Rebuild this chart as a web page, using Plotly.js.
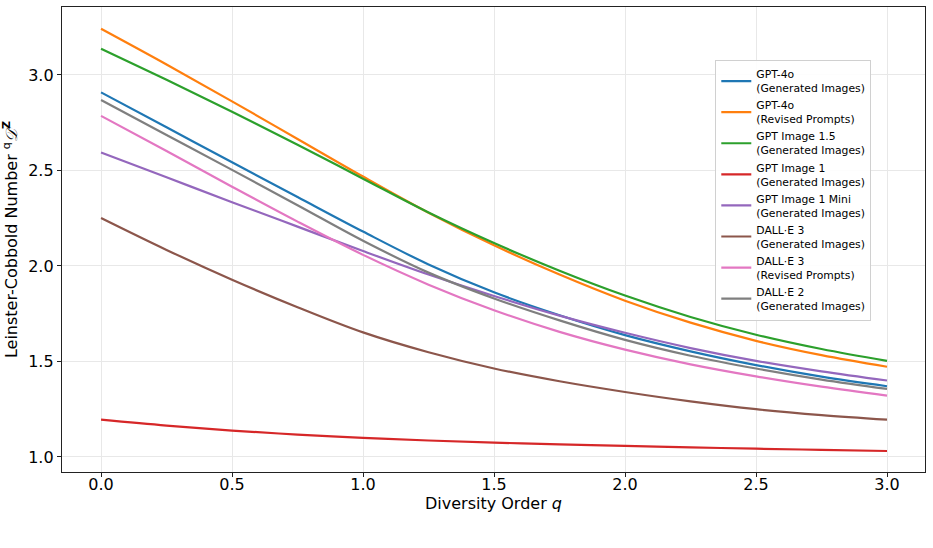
<!DOCTYPE html>
<html>
<head>
<meta charset="utf-8">
<script src="https://cdn.plot.ly/plotly-3.0.1.min.js"></script>
<style>html,body{margin:0;padding:0;background:#fff;}#chart{width:933px;height:548px;}</style>
</head>
<body>
<div id="chart"></div>
<script>
const q = [0, 0.25, 0.5, 0.75, 1.0, 1.25, 1.5, 1.75, 2.0, 2.25, 2.5, 2.75, 3.0];

const gpt4oGen      = [2.909, 2.726, 2.543, 2.361, 2.180, 2.008, 1.862, 1.742, 1.638, 1.553, 1.481, 1.420, 1.370];
const gpt4oRevised  = [3.242, 3.055, 2.862, 2.665, 2.468, 2.279, 2.108, 1.955, 1.818, 1.703, 1.608, 1.533, 1.472];
const gptImg15      = [3.137, 2.975, 2.808, 2.635, 2.457, 2.280, 2.120, 1.975, 1.845, 1.733, 1.640, 1.565, 1.503];
const gptImg1       = [1.195, 1.164, 1.138, 1.117, 1.100, 1.086, 1.075, 1.066, 1.058, 1.050, 1.043, 1.037, 1.031];
const gptImg1Mini   = [2.594, 2.464, 2.334, 2.206, 2.078, 1.955, 1.843, 1.740, 1.650, 1.570, 1.503, 1.448, 1.400];
const dalle3Gen     = [2.251, 2.084, 1.928, 1.784, 1.652, 1.548, 1.463, 1.396, 1.340, 1.291, 1.250, 1.219, 1.195];
const dalle3Revised = [2.786, 2.602, 2.415, 2.232, 2.058, 1.902, 1.768, 1.655, 1.562, 1.485, 1.422, 1.368, 1.321];
const dalle2Gen     = [2.869, 2.686, 2.503, 2.318, 2.132, 1.965, 1.830, 1.715, 1.613, 1.530, 1.463, 1.405, 1.356];

const names = [
  "GPT-4o<br>(Generated Images)",
  "GPT-4o<br>(Revised Prompts)",
  "GPT Image 1.5<br>(Generated Images)",
  "GPT Image 1<br>(Generated Images)",
  "GPT Image 1 Mini<br>(Generated Images)",
  "DALL·E 3<br>(Generated Images)",
  "DALL·E 3<br>(Revised Prompts)",
  "DALL·E 2<br>(Generated Images)"
];
const series = [gpt4oGen, gpt4oRevised, gptImg15, gptImg1, gptImg1Mini, dalle3Gen, dalle3Revised, dalle2Gen];
const colors = ["#1f77b4", "#ff7f0e", "#2ca02c", "#d62728", "#9467bd", "#8c564b", "#e377c2", "#7f7f7f"];

const xTicks = [0, 0.5, 1.0, 1.5, 2.0, 2.5, 3.0];
const xTickText = ["0.0", "0.5", "1.0", "1.5", "2.0", "2.5", "3.0"];
const yTicks = [1.0, 1.5, 2.0, 2.5, 3.0];
const yTickText = ["1.0", "1.5", "2.0", "2.5", "3.0"];

const traces = series.map((s, i) => ({
  x: q, y: s, type: "scatter", mode: "lines", name: names[i],
  line: {color: colors[i], width: 2.2, shape: "spline", smoothing: 1}
}));

const font = {family: "DejaVu Sans, sans-serif", color: "#000"};

const layout = {
  width: 933, height: 548,
  margin: {l: 62, r: 8, t: 7, b: 76},
  paper_bgcolor: "#fff", plot_bgcolor: "#fff",
  font: Object.assign({size: 16}, font),
  showlegend: true,
  legend: {
    x: 0.757, y: 0.887, xanchor: "left", yanchor: "top",
    bgcolor: "rgba(255,255,255,0.9)", bordercolor: "#d0d0d0", borderwidth: 1,
    font: Object.assign({size: 10.8}, font),
    tracegroupgap: 0, itemwidth: 30
  },
  xaxis: {
    range: [-0.149, 3.145],
    tickvals: xTicks, ticktext: xTickText,
    showgrid: true, gridcolor: "#e8e8e8", gridwidth: 1,
    zeroline: false,
    showline: true, linecolor: "#222", linewidth: 1.2, mirror: true,
    ticks: "outside", ticklen: 4, tickcolor: "#222",
    ticklabelstandoff: -6,
    tickfont: Object.assign({size: 16}, font),
    title: {text: "Diversity Order <i>q</i>", font: Object.assign({size: 16}, font), standoff: 4}
  },
  yaxis: {
    range: [0.921, 3.356],
    tickvals: yTicks, ticktext: yTickText,
    showgrid: true, gridcolor: "#e8e8e8", gridwidth: 1,
    zeroline: false,
    showline: true, linecolor: "#222", linewidth: 1.2, mirror: true,
    ticks: "outside", ticklen: 4, tickcolor: "#222",
    tickfont: Object.assign({size: 16}, font),
    title: {text: "Leinster-Cobbold Number <sup>q</sup><i>𝒟</i><sup><b>Z</b></sup>", font: Object.assign({size: 16}, font), standoff: 6}
  }
};

Plotly.newPlot("chart", traces, layout, {displayModeBar: false, staticPlot: true});
</script>
</body>
</html>
